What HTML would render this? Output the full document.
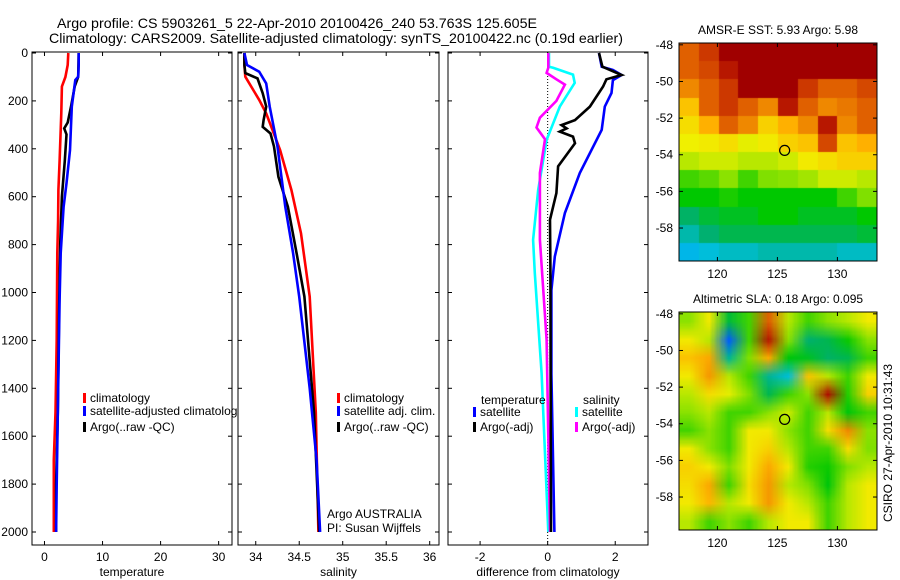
<!DOCTYPE html>
<html><head><meta charset="utf-8"><style>
body{margin:0;background:#fff;width:900px;height:580px;overflow:hidden;position:relative;font-family:"Liberation Sans",sans-serif}
canvas{position:absolute;z-index:0;image-rendering:auto}
svg{position:absolute;left:0;top:0;z-index:1}
</style></head><body>
<canvas id="sst" width="198" height="218" style="left:679px;top:43px"></canvas>
<canvas id="sla" width="198" height="218" style="left:679px;top:312px"></canvas>
<svg id="fig" width="900" height="580" xmlns="http://www.w3.org/2000/svg"></svg>
<script>
// ---------- data ----------
const depthTicks=[0,200,400,600,800,1000,1200,1400,1600,1800,2000];
const tempTicks=[0,10,20,30];
const salTicks=[34,34.5,35,35.5,36];
const salTickLabels=["34","34.5","35","35.5","36"];
const diffTicks=[-2,0,2];
const latTicks=[-48,-50,-52,-54,-56,-58];
const lonTicks=[120,125,130];

const tClimDepth=[0,50,100,140,250,321,450,572,700,836,1200,1500,1700,2000];
const tClim=[4.1,4.0,3.6,3.0,2.9,2.8,2.6,2.4,2.35,2.2,2.1,1.9,1.6,1.6];
const tSatDepth=[0,50,99,113,224,405,544,642,836,1031,1500,1800,2000];
const tSat=[5.9,5.9,5.8,5.3,4.7,4.4,3.8,3.3,2.8,2.6,2.3,2.1,2.0];
const tArgoDepth=[0,99,140,220,290,315,340,450,600,800,1100,1500,1800,2000];
const tArgo=[5.9,5.8,5.2,4.6,4.0,3.4,3.8,3.5,3.0,2.7,2.5,2.3,2.0,2.0];

const sClimDepth=[0,50,99,196,252,405,572,753,1017,1500,2000];
const sClim=[33.87,33.87,33.88,34.04,34.12,34.28,34.41,34.52,34.62,34.69,34.72];
const sSatDepth=[0,50,78,127,224,391,642,836,1017,1400,1700,2000];
const sSat=[33.87,33.9,34.04,34.12,34.16,34.25,34.34,34.43,34.5,34.62,34.70,34.74];
const sArgoDepth=[0,50,84,106,168,224,280,308,336,391,517,642,836,1017,1500,2000];
const sArgo=[33.87,33.87,33.88,34.02,34.08,34.12,34.09,34.08,34.17,34.21,34.26,34.37,34.47,34.56,34.67,34.73];

const dTSatDepth=[0,57,71,92,113,167,224,321,501,668,850,990,1340,2000];
const dTSat=[1.52,1.6,1.93,2.19,1.93,1.89,1.69,1.6,0.95,0.51,0.21,0.11,0.11,0.2];
const dTArgoDepth=[0,57,92,110,140,224,280,301,315,328,349,377,473,585,696,900,2000];
const dTArgo=[1.52,1.62,2.19,1.74,1.64,1.25,0.81,0.41,0.56,0.36,0.75,0.81,0.31,0.26,0.07,0.08,0.1];
const dSSatDepth=[0,57,62,90,125,224,363,571,780,919,1337,2000];
const dSSat=[0.04,0.04,0.16,0.75,0.8,0.36,-0.03,-0.28,-0.43,-0.38,-0.18,0.02];
const dSArgoDepth=[0,62,83,110,132,200,270,311,360,501,780,1197,2000];
const dSArgo=[0.02,0.02,-0.03,0.26,0.51,0.26,-0.23,-0.33,-0.08,-0.23,-0.23,-0.03,0.07];

const sstGrid=[
[0.85,0.9,1,1,1,1,1,1,1,1],
[0.85,0.88,0.95,1,1,1,1,1,1,1],
[0.8,0.85,0.9,1,1,1,0.9,0.85,0.85,0.88],
[0.72,0.85,0.9,0.85,0.8,0.95,0.85,0.8,0.82,0.85],
[0.68,0.75,0.85,0.8,0.7,0.75,0.8,0.95,0.8,0.85],
[0.65,0.66,0.68,0.64,0.66,0.7,0.72,0.88,0.72,0.75],
[0.6,0.62,0.62,0.6,0.6,0.62,0.66,0.68,0.7,0.7],
[0.5,0.52,0.56,0.5,0.55,0.56,0.58,0.62,0.62,0.6],
[0.45,0.45,0.47,0.45,0.45,0.45,0.45,0.45,0.5,0.55],
[0.36,0.4,0.42,0.42,0.45,0.45,0.42,0.42,0.42,0.45],
[0.3,0.35,0.38,0.38,0.38,0.38,0.38,0.38,0.38,0.4],
[0.24,0.26,0.28,0.28,0.3,0.3,0.3,0.3,0.28,0.28]];
const slaGrid=[
[0.56,0.66,0.4,0.5,0.85,0.6,0.5,0.56,0.6,0.66],
[0.66,0.6,0.15,0.5,0.95,0.56,0.35,0.38,0.46,0.56],
[0.72,0.76,0.32,0.55,0.76,0.44,0.42,0.36,0.38,0.5],
[0.66,0.78,0.6,0.5,0.32,0.26,0.72,0.6,0.5,0.66],
[0.6,0.68,0.64,0.55,0.38,0.5,0.56,0.97,0.48,0.7],
[0.56,0.6,0.5,0.5,0.56,0.62,0.5,0.6,0.44,0.5],
[0.5,0.56,0.5,0.66,0.66,0.56,0.5,0.68,0.8,0.56],
[0.66,0.56,0.5,0.66,0.7,0.6,0.5,0.5,0.68,0.55],
[0.7,0.66,0.55,0.66,0.76,0.66,0.48,0.46,0.55,0.6],
[0.68,0.76,0.5,0.68,0.78,0.6,0.55,0.44,0.6,0.66],
[0.66,0.74,0.6,0.66,0.78,0.66,0.6,0.5,0.6,0.66],
[0.6,0.5,0.56,0.5,0.6,0.66,0.66,0.5,0.6,0.66]];
const argoLon=125.605, argoLat=-53.763;

// ---------- helpers ----------
const NS="http://www.w3.org/2000/svg";
const svg=document.getElementById('fig');
function el(tag,attrs,parent){const e=document.createElementNS(NS,tag);for(const k in attrs)e.setAttribute(k,attrs[k]);(parent||svg).appendChild(e);return e;}
function txt(s,attrs){const e=el('text',Object.assign({'font-family':'Liberation Sans, sans-serif','font-size':12,fill:'#000'},attrs));e.textContent=s;return e;}
const yD=d=>53+d*0.2395;
const panels=[
 {x0:32,x1:232,vmin:-2.15,vmax:32.3,ticks:tempTicks,labels:tempTicks.map(String),title:'temperature'},
 {x0:238,x1:439,vmin:33.796,vmax:36.107,ticks:salTicks,labels:salTickLabels,title:'salinity'},
 {x0:448,x1:648,vmin:-2.95,vmax:2.97,ticks:diffTicks,labels:diffTicks.map(String),title:'difference from climatology'}];
function xf(p,v){return p.x0+(v-p.vmin)/(p.vmax-p.vmin)*(p.x1-p.x0);}
const TOP=52,BOT=545;

// titles
let t=txt('Argo profile: CS 5903261_5 22-Apr-2010 20100426_240 53.763S 125.605E',{x:57,y:28,'font-size':14,textLength:480,lengthAdjust:'spacingAndGlyphs'});

t=txt('Climatology: CARS2009. Satellite-adjusted climatology: synTS_20100422.nc (0.19d earlier)',{x:49,y:43,'font-size':14,textLength:574,lengthAdjust:'spacingAndGlyphs'});


function line(p,vals,depths,color,name,w){
  const pts=vals.map((v,i)=>xf(p,v).toFixed(1)+','+yD(depths[i]).toFixed(1)).join(' ');
  const e=el('polyline',{points:pts,fill:'none',stroke:color,'stroke-width':w||2.6,'stroke-linejoin':'miter'});
  
  
}
panels.forEach((p,pi)=>{
  const g=el('g',{});
  
  
  depthTicks.forEach(d=>{
    el('line',{x1:p.x0,x2:p.x0+4,y1:yD(d),y2:yD(d),stroke:'#000'},g);
    el('line',{x1:p.x1,x2:p.x1-4,y1:yD(d),y2:yD(d),stroke:'#000'},g);
    if(pi===0){const l=txt(String(d),{x:p.x0-4,y:yD(d)+4,'text-anchor':'end'});
      }
  });
  p.ticks.forEach((v,i)=>{
    const x=xf(p,v);
    el('line',{x1:x,x2:x,y1:BOT,y2:BOT-4,stroke:'#000'},g);
    el('line',{x1:x,x2:x,y1:TOP,y2:TOP+4,stroke:'#000'},g);
    const l=txt(p.labels[i],{x:x,y:561,'text-anchor':'middle'});
    
  });
  const at=txt(p.title,{x:(p.x0+p.x1)/2,y:576,'text-anchor':'middle'});
  
});
const [P1,P2,P3]=panels;
const zl=el('line',{x1:xf(P3,0),x2:xf(P3,0),y1:TOP,y2:BOT,stroke:'#000','stroke-dasharray':'1,2'});


line(P1,tClim,tClimDepth,'#ff0000','temp-climatology-line');
line(P1,tArgo,tArgoDepth,'#000','temp-argo-line');
line(P1,tSat,tSatDepth,'#0000ff','temp-satellite-line');
line(P2,sClim,sClimDepth,'#ff0000','sal-climatology-line');
line(P2,sArgo,sArgoDepth,'#000','sal-argo-line');
line(P2,sSat,sSatDepth,'#0000ff','sal-satellite-line');
line(P3,dSSat,dSSatDepth,'#00ffff','diff-sal-satellite-line');
line(P3,dSArgo,dSArgoDepth,'#ff00ff','diff-sal-argo-line');
line(P3,dTSat,dTSatDepth,'#0000ff','diff-temp-satellite-line');
line(P3,dTArgo,dTArgoDepth,'#000','diff-temp-argo-line');
panels.forEach(p=>{const r=el('rect',{x:p.x0,y:TOP,width:p.x1-p.x0,height:BOT-TOP,fill:'none',stroke:'#000','stroke-width':1});
  });

// legends
function legend(x,y,color,label,name){
  const g=el('g',{});
  
  
  el('rect',{x:x,y:y-9,width:3,height:10,fill:color},g);
  const tt=txt(label,{x:x+7,y:y});g.appendChild(tt);
}
legend(83,402,'#ff0000','climatology','legend-entry-climatology');
legend(83,415,'#0000ff','satellite-adjusted climatolog','legend-entry-satellite');
legend(83,431,'#000','Argo(..raw -QC)','legend-entry-argo');
legend(337,402,'#ff0000','climatology','legend-entry-climatology-2');
legend(337,415,'#0000ff','satellite adj. clim.','legend-entry-satellite-2');
legend(337,431,'#000','Argo(..raw -QC)','legend-entry-argo-2');
t=txt('temperature',{x:481,y:404});
t=txt('salinity',{x:583,y:404});
legend(473,416,'#0000ff','satellite','legend-entry-temp-satellite');
legend(473,431,'#000','Argo(-adj)','legend-entry-temp-argo');
legend(575,416,'#00ffff','satellite','legend-entry-sal-satellite');
legend(575,431,'#ff00ff','Argo(-adj)','legend-entry-sal-argo');
t=txt('Argo AUSTRALIA',{x:327,y:518});
t=txt('PI: Susan Wijffels',{x:327,y:532});

// ---------- maps ----------
const stops=[[0,[0,0,160]],[0.12,[0,64,255]],[0.25,[0,192,230]],[0.35,[0,176,112]],[0.45,[0,200,0]],[0.55,[128,224,0]],[0.65,[240,240,0]],[0.75,[255,176,0]],[0.85,[224,96,0]],[0.93,[192,32,0]],[1,[160,0,0]]];
function cmap(v){v=Math.max(0,Math.min(1,v));for(let i=1;i<stops.length;i++){if(v<=stops[i][0]){const a=stops[i-1],b=stops[i],f=(v-a[0])/(b[0]-a[0]);return a[1].map((c,k)=>Math.round(c+(b[1][k]-c)*f));}}return stops[stops.length-1][1];}
function drawMap(id,grid,smooth){
  const cv=document.getElementById(id),ctx=cv.getContext('2d');
  const rows=grid.length,cols=grid[0].length;
  const off=document.createElement('canvas');off.width=cols;off.height=rows;
  const oc=off.getContext('2d');const img=oc.createImageData(cols,rows);
  grid.forEach((r,i)=>r.forEach((v,j)=>{const c=cmap(v),k=(i*cols+j)*4;img.data[k]=c[0];img.data[k+1]=c[1];img.data[k+2]=c[2];img.data[k+3]=255;}));
  oc.putImageData(img,0,0);
  ctx.imageSmoothingEnabled=smooth;
  ctx.drawImage(off,0,0,cv.width,cv.height);
}
drawMap('sst',sstGrid,false);
drawMap('sla',slaGrid,true);
const maps=[{top:43,title:'AMSR-E SST: 5.93 Argo: 5.98',name:'sst'},{top:312,title:'Altimetric SLA: 0.18 Argo: 0.095',name:'sla'}];
const MX0=679,MX1=877,MH=218,LON0=116.8,LON1=133.3,LAT0=-47.9,LAT1=-59.8;
maps.forEach(m=>{
  const lx=v=>MX0+(v-LON0)/(LON1-LON0)*(MX1-MX0);
  const ly=v=>m.top+(v-LAT0)/(LAT1-LAT0)*MH;
  const g=el('g',{});
  
  
  el('rect',{x:MX0,y:m.top,width:MX1-MX0,height:MH,fill:'none',stroke:'#000'},g);
  latTicks.forEach(v=>{el('line',{x1:MX0,x2:MX0+4,y1:ly(v),y2:ly(v),stroke:'#000'},g);el('line',{x1:MX1,x2:MX1-4,y1:ly(v),y2:ly(v),stroke:'#000'},g);
    const l=txt(String(v),{x:MX0-6,y:ly(v)+4,'text-anchor':'end'});});
  lonTicks.forEach(v=>{el('line',{x1:lx(v),x2:lx(v),y1:m.top,y2:m.top+4,stroke:'#000'},g);el('line',{x1:lx(v),x2:lx(v),y1:m.top+MH,y2:m.top+MH-4,stroke:'#000'},g);
    const l=txt(String(v),{x:lx(v),y:m.top+MH+17,'text-anchor':'middle'});});
  const c=el('ellipse',{cx:lx(argoLon),cy:ly(argoLat),rx:5,ry:5,fill:'none',stroke:'#000','stroke-width':1.2});
  
  const tt=txt(m.title,{x:(MX0+MX1)/2,y:m.top-9,'text-anchor':'middle'});
  
});
t=txt('CSIRO 27-Apr-2010 10:31:43',{x:0,y:0,'text-anchor':'middle',transform:'translate(892,443) rotate(-90)'});

</script>
</body></html>
